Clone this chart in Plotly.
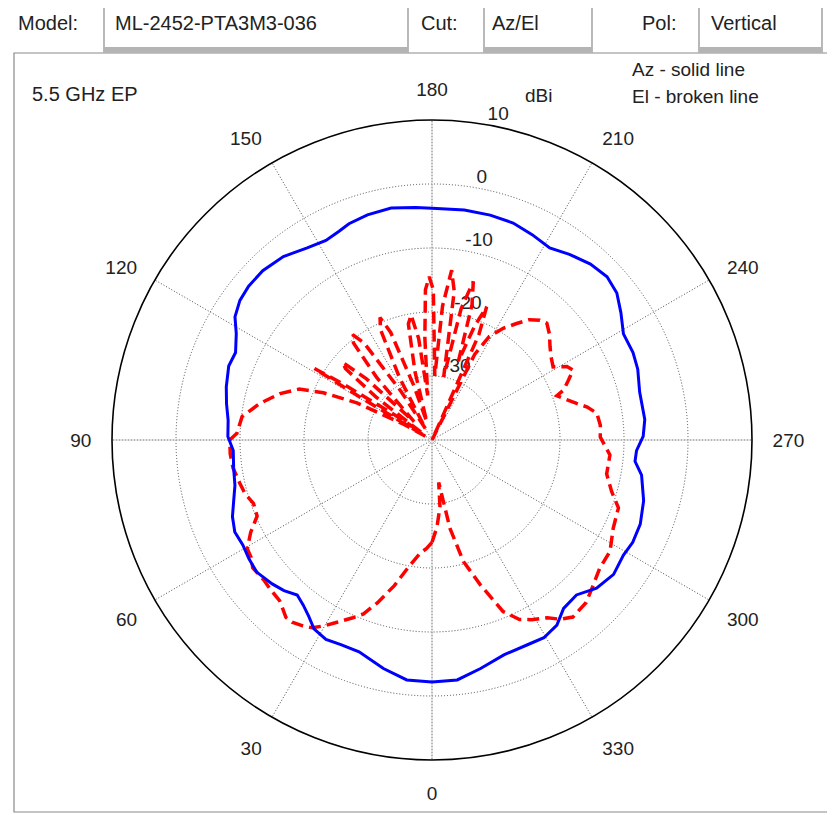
import plotly.graph_objects as go

# the page body adds an 8px margin, so the figure is drawn 8px smaller
OFF = 8
W, H = 835 - OFF, 815 - OFF
FONT = "Liberation Sans, Arial, sans-serif"

# Az cut (solid line): angle in degrees, gain in dBi
az_angle = [0, 6, 12, 19, 24, 28, 32, 35, 38, 41, 44.5, 48, 53, 57, 61, 65, 69, 73, 77, 82,
            87, 91, 95.5, 100, 104.5, 110, 114, 118.5, 122, 126, 130, 135, 141, 147, 152,
            156, 159, 164, 170, 176, 180, 188, 194.5, 200.5, 206, 211.5, 216.5, 222, 227,
            231.5, 236, 241, 246.5, 251, 257, 264.5, 269, 273, 276, 279.5, 286, 292, 297,
            301, 306.5, 312, 317, 322, 326, 330.5, 335, 341.5, 348, 354, 360]
az_gain = [-2.2, -2.3, -3.5, -5.0, -5.0, -4.7, -5.2, -6.4, -7.3, -7.9, -7.0, -6.4, -5.7, -5.9,
           -6.2, -6.0, -6.6, -7.6, -8.4, -8.7, -8.9, -8.1, -8.0, -7.4, -6.8, -6.2, -6.4, -5.2,
           -3.7, -2.9, -2.6, -2.6, -3.1, -4.2, -4.7, -4.3, -3.8, -3.4, -3.2, -3.6, -3.8, -3.7,
           -3.7, -3.8, -4.3, -4.8, -3.9, -3.0, -2.6, -3.1, -4.4, -5.8, -5.75, -6.0, -6.7,
           -6.6, -7.0, -8.0, -8.1, -6.8, -5.6, -4.9, -4.8, -5.1, -4.7, -5.4, -6.9, -6.6,
           -5.1, -4.5, -4.7, -4.6, -3.5, -2.3, -2.2]

# El cut (broken line)
el_angle = [0, 3, 6, 10.5, 14.5, 18.5, 21.5, 24, 27.5, 30, 32.5, 35, 37.5, 39.5, 41.5, 43.5,
            47, 50, 54.5, 57, 59.5, 63, 66.5, 70.5, 74, 77.5, 82, 86, 90, 92, 97, 102, 107,
            111, 113.5, 116.3, 119, 120.2, 120.8, 121.3, 122.3, 124, 125.5, 127.5, 129.5,
            131, 133, 135.5, 138.5, 141, 143, 145, 147.5, 150, 152.5, 155, 157, 159, 161.5,
            164, 166, 168.5, 170.5, 172.5, 174.5, 176, 177.5, 179, 180.5, 182.5, 184.5,
            186.6, 188.5, 190.5, 192.5, 194.6, 196.5, 198.5, 200.5, 202.3, 204, 205.3,
            206.5, 209, 212.5, 216, 219, 222, 224.5, 228, 231.7, 235, 238.9, 241.4, 243.6,
            246.5, 249.2, 250.5, 253, 255.8, 258, 260.8, 265, 269, 274.8, 281, 286, 290,
            296, 302, 307.5, 312, 316.5, 321.5, 324.5, 327, 331, 334, 337.5, 341.5, 345.5,
            348.5, 351, 353.2, 356.7, 360]
el_gain = [-24.0, -23.0, -22.2, -19.8, -16.5, -13.2, -10.8, -9.6, -7.9, -6.5, -5.2, -4.6,
           -4.1, -4.1, -4.8, -5.4, -5.6, -5.8, -5.6, -6.3, -6.5, -8.2, -10.2, -10.4, -9.6,
           -9.2, -8.6, -8.4, -8.4, -9.5, -10.1, -12.5, -15.2, -17.8, -21.5, -26.9, -35,
           -39, -26, -18.5, -24, -33, -38, -29, -22.5, -21.5, -26, -36, -27, -20.5, -19.4,
           -21.5, -31, -38, -29, -21, -19.2, -22, -31, -37, -29, -21.5, -20.2, -24, -33,
           -24, -16.5, -14.5, -16.5, -30, -19, -13.3, -16.5, -30, -19, -14.4, -18, -27,
           -21, -17.5, -22, -40, -25, -21.5, -19.3, -17.5, -15.8, -14.8, -14.4, -15.3,
           -16.5, -17.3, -17.9, -16.0, -15.4, -16.8, -18.0, -19.3, -18.2, -16.7, -15.2,
           -13.9, -13.6, -13.7, -12.1, -12.2, -10.8, -9.0, -8.5, -7.2, -7.0, -6.1, -5.0,
           -4.65, -5.6, -6.9, -7.9, -8.8, -11.0, -16.1, -20.4, -25.9, -33.3, -29.5, -26.4,
           -24.0]

angle_ticks = list(range(0, 360, 30))
gain_ticks = [-30, -20, -10, 0, 10]
gain_labels = ["-30", "-20", "-10", "0", "10"]
gain_min, gain_max = -40, 10


def pp(x, y):
    # window pixel -> paper coords
    return (x - OFF) / W, 1 - (y - OFF) / H


fig = go.Figure()

# solid light crosshair at 0/180 and 90/270
fig.add_trace(go.Scatterpolar(
    r=[gain_max, gain_min, gain_max, None, gain_max, gain_min, gain_max],
    theta=[0, 0, 180, None, 90, 90, 270],
    mode="lines", line=dict(color="#c8c8c8", width=1), hoverinfo="skip"))

# radial tick labels along a ray just right of the top
fig.add_trace(go.Scatterpolar(
    r=gain_ticks, theta=[190] * len(gain_ticks), text=gain_labels,
    mode="text", textposition="top right", cliponaxis=False,
    textfont=dict(family=FONT, size=19, color="#222")))

fig.add_trace(go.Scatterpolar(
    r=el_gain, theta=el_angle, mode="lines", name="El",
    line=dict(color="#ff0000", width=3.5, dash="12px,6px")))
fig.add_trace(go.Scatterpolar(
    r=az_gain, theta=az_angle, mode="lines", name="Az",
    line=dict(color="#0000ff", width=3)))

dx0, dy0 = pp(112, 760)
dx1, dy1 = pp(752, 120)
fig.update_layout(
    width=W, height=H, autosize=False,
    margin=dict(l=0, r=0, t=0, b=0),
    paper_bgcolor="white", showlegend=False,
    font=dict(family=FONT, color="#222"),
    polar=dict(
        domain=dict(x=[dx0, dx1], y=[dy0, dy1]),
        bgcolor="white",
        angularaxis=dict(
            rotation=270, direction="clockwise",
            tickmode="array", tickvals=angle_ticks,
            ticktext=[str(a) for a in angle_ticks],
            ticks="outside", ticklen=16, tickcolor="rgba(0,0,0,0)",
            tickfont=dict(family=FONT, size=19, color="#222"),
            showline=True, linecolor="black", linewidth=1.6,
            showgrid=True, gridcolor="#4a4a4a", gridwidth=1, griddash="1px,2px"),
        radialaxis=dict(
            range=[gain_min, gain_max], tickvals=gain_ticks,
            showticklabels=False, ticks="", showline=False,
            showgrid=True, gridcolor="#4a4a4a", gridwidth=1, griddash="1px,2px"),
    ),
)

shapes = []


def rect(x0, y0, x1, y1, **kw):
    a, b = pp(x0, y1)
    c, d = pp(x1, y0)
    shapes.append(dict(type="rect", xref="paper", yref="paper",
                       x0=a, y0=b, x1=c, y1=d, layer="below", **kw))


# outer frame
rect(14, 53, 833, 812, line=dict(color="#8a8a8a", width=1.2))
# header value boxes with shaded bottom edge
for bx0, bx1 in [(104, 408), (484, 592), (699, 822)]:
    rect(bx0, -5, bx1, 52, line=dict(color="#8a8a8a", width=1.2), fillcolor="white")
    rect(bx0, 47, bx1, 53, line=dict(width=0), fillcolor="#b4b4b4")
fig.update_layout(shapes=shapes)

notes = [
    ("Model:", 16, 23, 20),
    ("ML-2452-PTA3M3-036", 113, 23, 20),
    ("Cut:", 419, 23, 20),
    ("Az/El", 490, 23, 20),
    ("Pol:", 640, 23, 20),
    ("Vertical", 709, 23, 20),
    ("5.5 GHz EP", 30, 94, 20),
    ("Az - solid line", 630, 70, 19),
    ("El - broken line", 630, 96, 19),
    ("dBi", 523, 95, 19),
]
for txt, x, y, s in notes:
    ax, ay = pp(x, y)
    fig.add_annotation(text=txt, x=ax, y=ay, xref="paper", yref="paper",
                       xanchor="left", yanchor="middle", showarrow=False,
                       font=dict(family=FONT, size=s, color="#222"))

fig.write_html("out.html")
